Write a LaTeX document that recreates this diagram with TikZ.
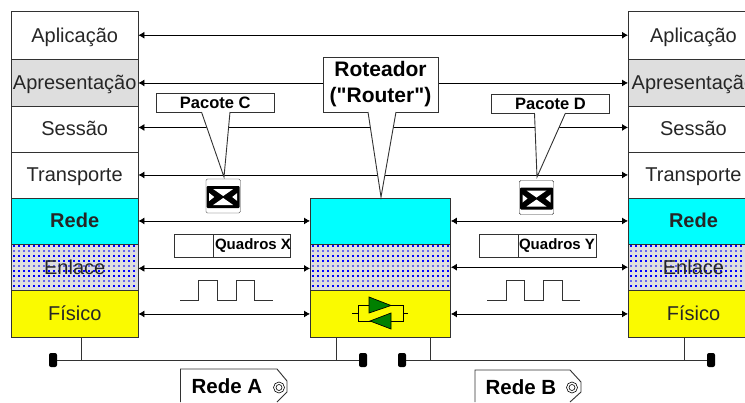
\documentclass[tikz,border=0pt]{standalone}
\usepackage{fontspec}
\setmainfont{Liberation Sans}
\newfontfamily\rawfont{Liberation Sans}
\usetikzlibrary{arrows.meta}
\definecolor{lg}{RGB}{222,222,222}
\definecolor{cy}{RGB}{0,255,255}
\definecolor{ye}{RGB}{250,250,0}
\definecolor{gn}{RGB}{0,128,0}
\definecolor{ln}{RGB}{50,50,50}
\tikzset{x=1pt,y=-1pt,
  layer/.style={draw=ln,line width=.9pt,minimum height=46pt,inner sep=0pt,anchor=north west,font=\fontsize{20}{22}\selectfont,text=black!85,text height=14pt,text depth=0pt},
  lbox/.style={layer,minimum width=126.5pt},
  rbox/.style={layer,minimum width=130pt},
  mbox/.style={layer,minimum width=140pt},
  peer/.style={draw=black,line width=.8pt,{Latex[length=6pt,width=7pt]}-{Latex[length=6pt,width=7pt]}},
  wire/.style={draw=ln,line width=.9pt},
  tag/.style={draw=ln,fill=white,line width=.9pt,inner sep=0pt,font=\fontsize{16.5}{18}\selectfont\bfseries},
  callout/.style={draw=ln,fill=white,line width=.9pt},
  term/.style={fill=black,rounded corners=2pt,minimum width=8pt,minimum height=14pt,inner sep=0pt},
  ltext/.style={font=\fontsize{20}{22}\selectfont,text=black!85,inner sep=0pt,text height=14pt,text depth=0pt},
}
\newcommand{\dither}[4]{%
  \begin{scope}
  \clip (#1,#2) rectangle (#3,#4);
  \foreach \r [count=\n] in {0,1,...,8}{%
    \pgfmathsetmacro{\yy}{#2+1+5*\r}
    \pgfmathsetmacro{\op}{ifthenelse(\r==1||\r==4||\r==7,0.55,1)}
    \foreach \c in {0,1,...,28}{%
      \pgfmathsetmacro{\xx}{#1+1+5*\c}
      \fill[blue,opacity=\op] (\xx,\yy) rectangle ++(2.6,1.8);
    }}
  \end{scope}}
\newcommand{\envelope}[3]{%
  \node[draw=ln,fill=white,rounded corners=1.5pt,minimum width=34.5pt,minimum height=34pt,inner sep=0pt] (#1) at (#2,#3) {};
  \fill[black,rounded corners=1pt] (#2-16.5,#3-10) rectangle (#2+16.5,#3+12);
  \fill[white] (#2-10,#3-7) -- (#2+10,#3-7) -- (#2,#3) -- cycle;
  \fill[white] (#2-10,#3+9) -- (#2+10,#3+9) -- (#2,#3+2) -- cycle;
  \fill[white] (#2-14,#3-3) -- (#2-9,#3+1) -- (#2-14,#3+5) -- cycle;
  \fill[white] (#2+14,#3-3) -- (#2+9,#3+1) -- (#2+14,#3+5) -- cycle;
}
\begin{document}
\begin{tikzpicture}
\useasboundingbox (0,0) rectangle (745,402);
\begin{scope}
\clip (0,0) rectangle (745,402);
% left stack
\node[lbox,minimum height=47.5pt,fill=white] (la) at (11,11) {Aplicação};
\node[lbox,minimum height=47pt,fill=lg] (lp) at (11,58.5) {Apresentação};
\node[lbox,fill=white] (ls) at (11,105.5) {Sessão};
\node[lbox,fill=white] (lt) at (11,151.5) {Transporte};
\node[lbox,fill=cy] (lr) at (11,197.5) {\textbf{Rede}};
\node[lbox,minimum height=46.5pt,fill=lg] (le) at (11,243.5) {};
\dither{11.5}{244}{137}{289.5}
\node[ltext] (let) at (le.center) {Enlace};
\node[lbox,minimum height=47pt,fill=ye] (lf) at (11,290) {Físico};
% right stack
\node[rbox,minimum height=47.5pt,fill=white] (ra) at (628,11) {Aplicação};
\node[rbox,minimum height=47pt,fill=lg] (rp) at (628,58.5) {Apresentação};
\node[rbox,fill=white] (rs) at (628,105.5) {Sessão};
\node[rbox,fill=white] (rt) at (628,151.5) {Transporte};
\node[rbox,fill=cy] (rr) at (628,197.5) {\textbf{Rede}};
\node[rbox,minimum height=46.5pt,fill=lg] (re) at (628,243.5) {};
\dither{628.5}{244}{745}{289.5}
\node[ltext] (ret) at (re.center) {Enlace};
\node[rbox,minimum height=47pt,fill=ye] (rf) at (628,290) {Físico};
% router
\node[mbox,fill=cy] (mr) at (310,197.5) {};
\node[mbox,minimum height=46.5pt,fill=lg] (me) at (310,243.5) {};
\dither{310.5}{244}{450}{289.5}
\node[mbox,minimum height=47pt,fill=ye] (mf) at (310,290) {};
\end{scope}
% peer arrows
\draw[peer] (la.east) -- (ra.west);
\draw[peer] (lp.east) ++(0,0.5) coordinate (a1) (rp.west) ++(0,0.5) coordinate (a2) (a1) -- (a2);
\draw[peer] (ls.east) ++(0,-1.5) coordinate (b1) (rs.west) ++(0,-1.5) coordinate (b2) (b1) -- (b2);
\draw[peer] (lt.east) -- (rt.west);
\draw[peer] (lr.east) -- (mr.west);
\draw[peer] (mr.east) -- (rr.west);
\draw[peer] (le.east) ++(0,1.2) coordinate (c1) (me.west) ++(0,1.2) coordinate (c2) (c1) -- (c2);
\draw[peer] (me.east) coordinate (d1) (re.west) coordinate (d2) (d1) -- (d2);
\draw[peer] (lf.east) -- (mf.west);
\draw[peer] (mf.east) -- (rf.west);
% bus
\node[term] (t1) at (53,360) {};
\node[term] (t2) at (363,360) {};
\node[term] (t3) at (402,360) {};
\node[term] (t4) at (711,360) {};
\draw[wire] (t1) -- (t2);
\draw[wire] (t3) -- (t4);
\coordinate (s1) at (81,360); \coordinate (s2) at (336,360);
\coordinate (s3) at (430,360); \coordinate (s4) at (684,360);
\draw[wire] (lf.south -| s1) -- (s1);
\draw[wire] (mf.south -| s2) -- (s2);
\draw[wire] (mf.south -| s3) -- (s3);
\draw[wire] (rf.south -| s4) -- (s4);
% callouts
\node[tag,minimum width=117.5pt,minimum height=19pt] (pc) at (215.2,102.5) {Pacote C};
\node[tag,minimum width=118pt,minimum height=19pt] (pd) at (550.5,103.5) {Pacote D};
\filldraw[callout] (201.5,112) -- (224,177) -- (230,112);
\filldraw[callout] (534.5,113) -- (537,177) -- (565.5,113);
\envelope{ec}{223.2}{196}
\envelope{ed}{536.5}{197.5}
\node[draw=ln,fill=white,line width=.9pt,inner sep=0pt,minimum width=115pt,minimum height=55pt,align=center,font=\fontsize{21}{26}\selectfont\bfseries\rawfont] (rt2) at (380.5,84.5) {Roteador\\("Router")};
\filldraw[callout] (368,112) -- (381,197) -- (396,112);
\fill[white] (368.6,110) rectangle (395.4,112.6);
% frames
\node[draw=ln,fill=white,line width=.9pt,minimum width=116pt,minimum height=23pt,inner sep=0pt] (qx) at (232,245.5) {};
\draw[wire] (213,234) -- (213,257);
\node[font=\fontsize{15}{17}\selectfont\bfseries,inner sep=0] (qxt) at (253,245.5) {Quadros X};
\node[draw=ln,fill=white,line width=.9pt,minimum width=117pt,minimum height=23pt,inner sep=0pt] (qy) at (537.5,245.5) {};
\draw[wire] (518,234) -- (518,257);
\node[font=\fontsize{15}{17}\selectfont\bfseries,inner sep=0] (qyt) at (557,245.5) {Quadros Y};
% pulses
\draw[wire] (180,300.5) -| (198.5,280.5) -| (217.5,300.5) -| (236.5,280.5) -| (254,300.5) -- (273,300.5);
\draw[wire] (487,300.5) -| (506,280.5) -| (524.5,300.5) -| (543,280.5) -| (562,300.5) -- (580,300.5);
% amplifier symbol
\draw[black,line width=.9pt] (352,313.5) -- (358,313.5) (358,305) rectangle (403,321) (403,313.5) -- (408,313.5);
\filldraw[draw=black,fill=gn,line width=.7pt] (369,297) -- (391,305.5) -- (369,313) -- cycle;
\filldraw[draw=black,fill=gn,line width=.7pt] (370,321) -- (391,313) -- (391,329) -- cycle;
% network tags
\filldraw[callout] (180.5,402) -- (180.5,369) -- (277,369) -- (287,381) -- (287,392) -- (277,402);
\node[font=\fontsize{20.5}{22}\selectfont\bfseries,inner sep=0] (ra1) at (227,386) {Rede A};
\draw[black,line width=.6pt] (279,387.5) circle (5.5pt) (279,387.5) circle (3pt);
\filldraw[callout] (475,402) -- (475,370) -- (570,370) -- (581,382) -- (581,392) -- (570,402);
\node[font=\fontsize{20.5}{22}\selectfont\bfseries,inner sep=0] (rb1) at (521,387) {Rede B};
\draw[black,line width=.6pt] (572,387.5) circle (5.5pt) (572,387.5) circle (3pt);
\end{tikzpicture}
\end{document}
